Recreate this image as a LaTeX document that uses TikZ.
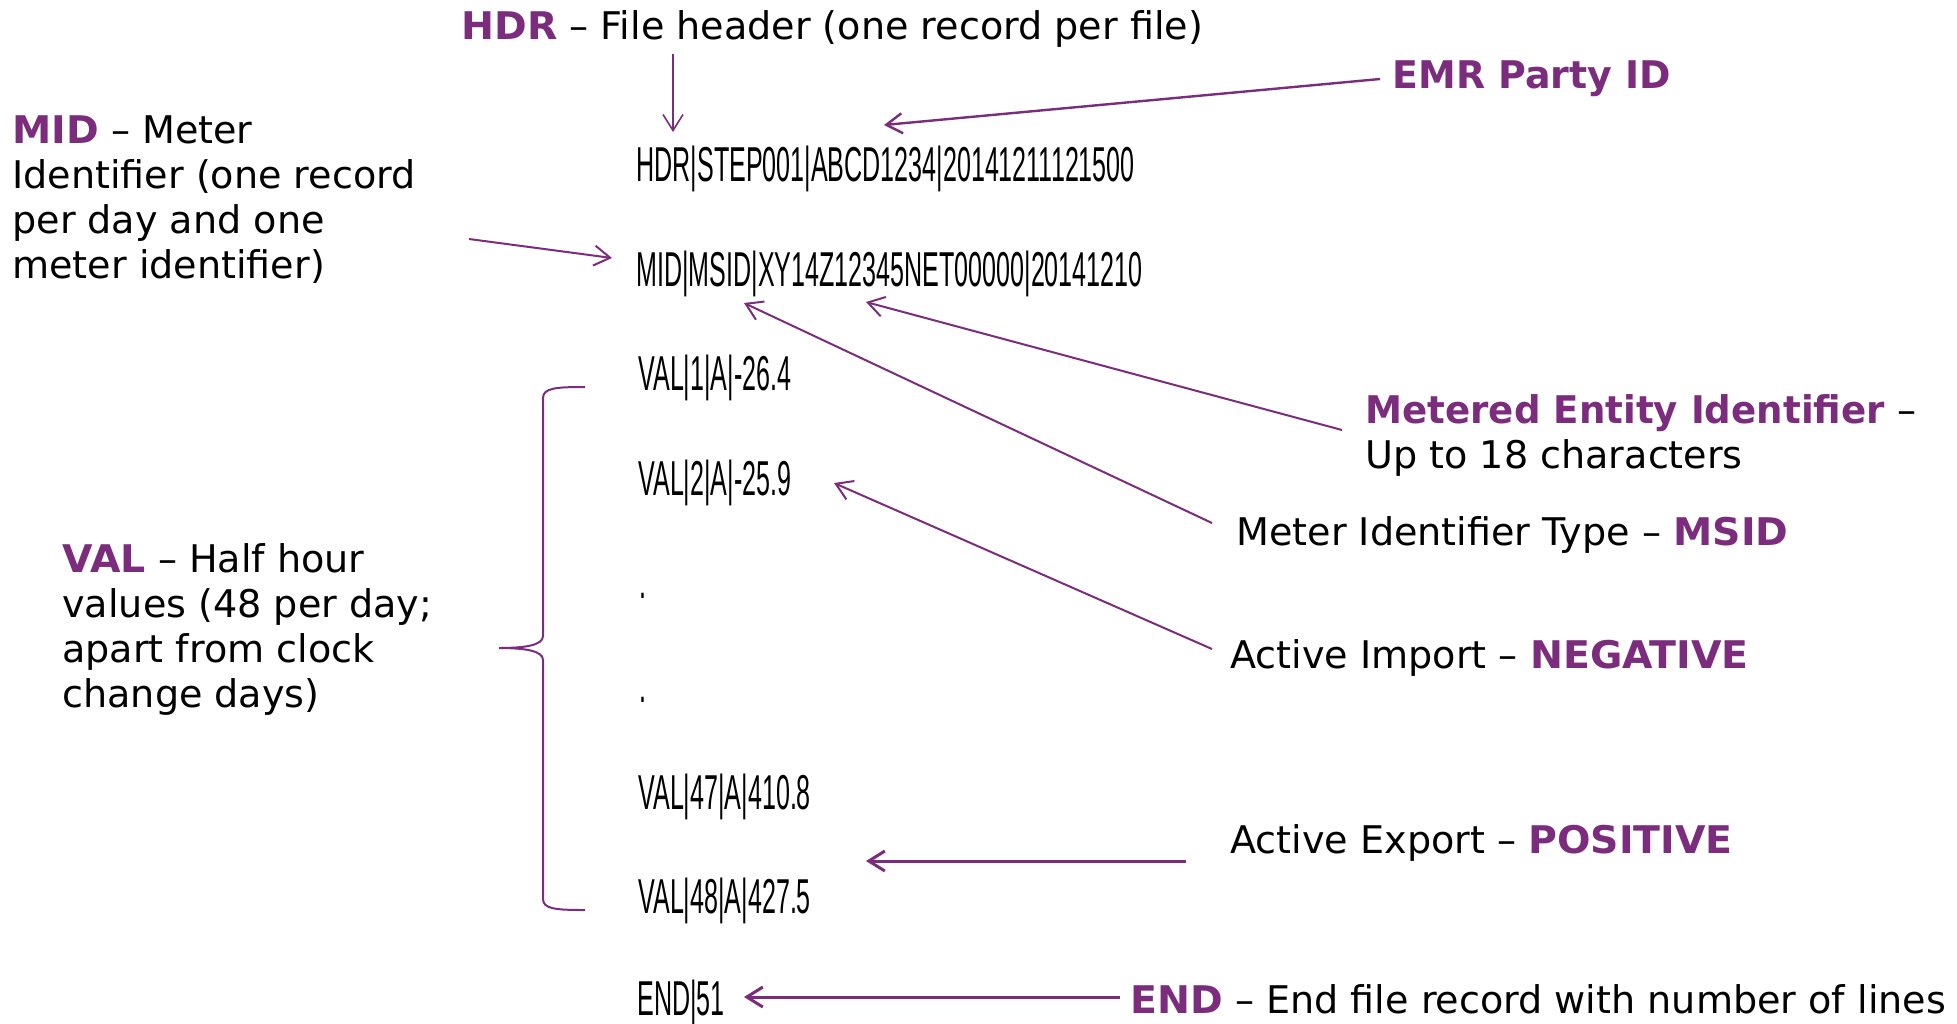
\documentclass[tikz,border=0pt]{standalone}
\usepackage{fontspec}
\setmainfont{DejaVu Sans}[BoldFeatures={FakeStretch=1.035}]
\newfontfamily\kwnarrow{DejaVu Sans}[FakeStretch=0.976]
\newfontfamily\kwmid{DejaVu Sans}[FakeStretch=0.995]
\newfontfamily\recfont[FakeStretch=0.512]{Liberation Sans}
\usetikzlibrary{arrows.meta}
\definecolor{emrpurple}{HTML}{7B2C7D}
\newcommand\kw[1]{{\color{emrpurple}\bfseries #1}}
\newcommand\stacklines[1]{\vtop{\halign{##\hfil\cr#1\crcr}}}
\tikzset{
  lbl/.style={anchor=base west, inner sep=0pt, font=\fontsize{19.05}{22.5}\selectfont},
  rec/.style={anchor=base west, inner sep=0pt, font=\recfont\fontsize{24.5}{29}\selectfont},
  ptr/.style={draw=emrpurple, line width=1pt, -{Straight Barb[length=8pt,width=10pt]}},
  brace/.style={draw=emrpurple, line width=1pt},
}
\begin{document}
\begin{tikzpicture}[x=0.5pt, y=-0.5pt]
\useasboundingbox (0,0) rectangle (1957,1023);

% records
\node[rec] (hdr)  at (636,181) {HDR|STEP001|ABCD1234|20141211121500};
\node[rec] (mid)  at (636,286) {MID|MSID|XY14Z12345NET00000|20141210};
\node[rec] (val1) at (638,390) {VAL|1|A|-26.4};
\node[rec] (val2) at (638,495) {VAL|2|A|-25.9};
\node[rec] (dot1) at (639,598) {.};
\node[rec] (dot2) at (639,702) {.};
\node[rec] (val47) at (638,809) {VAL|47|A|410.8};
\node[rec] (val48) at (638,913) {VAL|48|A|427.5};
\node[rec] (endrec) at (637,1015) {END|51};

% labels
\node[lbl] (hdrlbl) at (461,39) {\kw{HDR} -- File header (one record per file)};
\node[lbl] (emrlbl) at (1392,88) {\kw{\kwmid EMR Party ID}};
\node[lbl] (midlbl) at (12,143) {\stacklines{\kw{MID} -- Meter\cr Identifier (one record\cr per day and one\cr meter identifier)}};
\node[lbl] (metlbl) at (1365,423) {\stacklines{\kw{\kwnarrow Metered Entity Identifier} --\cr Up to 18 characters}};
\node[lbl] (msidlbl) at (1236,545) {Meter Identifier Type -- \kw{MSID}};
\node[lbl] (vallbl) at (62,572) {\stacklines{\kw{VAL} -- Half hour\cr values (48 per day;\cr apart from clock\cr change days)}};
\node[lbl] (implbl) at (1230,668) {Active Import -- \kw{NEGATIVE}};
\node[lbl] (explbl) at (1230,853) {Active Export -- \kw{POSITIVE}};
\node[lbl] (endlbl) at (1130,1013) {\kw{END} -- End file record with number of lines};

% connector end points
\coordinate (hdrA) at (673,54);   \coordinate (hdrB) at (673,132);
\coordinate (emrA) at (1380,79);  \coordinate (emrB) at (884,125);
\coordinate (midA) at (469,239);  \coordinate (midB) at (612,258);
\coordinate (metA) at (1342,430); \coordinate (metB) at (866,302);
\coordinate (msidA) at (1212,523); \coordinate (msidB) at (744,303);
\coordinate (impA) at (1212,649); \coordinate (impB) at (834,483);
\coordinate (expA) at (1186,861); \coordinate (expB) at (866,861);
\coordinate (endA) at (1120,997); \coordinate (endB) at (744,997);

\draw[ptr, line width=0.8pt] (hdrA) -- (hdrB);
\draw[ptr, line width=1.2pt] (emrA) -- (emrB);
\draw[ptr] (midA) -- (midB);
\draw[ptr] (metA) -- (metB);
\draw[ptr] (msidA) -- (msidB);
\draw[ptr] (impA) -- (impB);
\draw[ptr, line width=1.5pt] (expA) -- (expB);
\draw[ptr, line width=1.5pt] (endA) -- (endB);

% brace
\draw[brace] (585,387) .. controls (556,387) and (543,388) .. (543,398)
  -- (543,636) .. controls (543,645) and (526,648) .. (499,648)
  .. controls (526,648) and (543,651) .. (543,660)
  -- (543,899) .. controls (543,909) and (556,910) .. (585,910);
\end{tikzpicture}
\end{document}
